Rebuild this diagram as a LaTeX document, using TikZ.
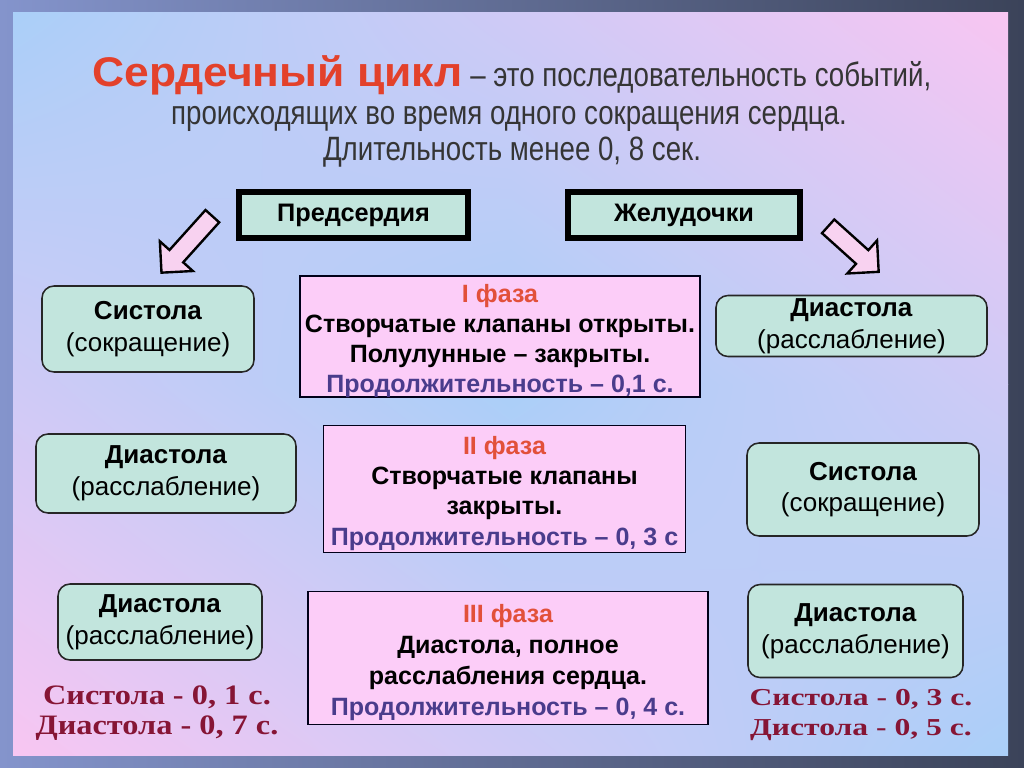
\documentclass[tikz,border=0pt]{standalone}
\usepackage{fontspec}
\setmainfont{Liberation Sans}
\newfontfamily\narrowfont[FakeStretch=0.82]{Liberation Sans}
\newfontfamily\widefont[FakeStretch=1.07]{Liberation Sans}
\newfontfamily\sumleftfont[FakeStretch=1.15]{Liberation Serif}
\newfontfamily\sumrightfont[FakeStretch=1.3]{Liberation Serif}
\usetikzlibrary{shapes.arrows, shadings, positioning}

\newlength{\pixel}
\setlength{\pixel}{0.25mm}
\newcommand{\topgap}{\rule{0pt}{19pt}}

\definecolor{framelt}{HTML}{8494CC}
\definecolor{framedk}{HTML}{3B4359}
\definecolor{slideblue}{HTML}{AACFF8}
\definecolor{slidepink}{HTML}{F8C6F2}
\definecolor{slidelav}{HTML}{CFCAF6}
\definecolor{mint}{HTML}{C2E5DD}
\definecolor{phasepink}{HTML}{FCCDF8}
\definecolor{arrowpink}{HTML}{F8D2F0}
\definecolor{titlered}{HTML}{E3412B}
\definecolor{textgray}{HTML}{353535}
\definecolor{phasered}{HTML}{E2503A}
\definecolor{durblue}{HTML}{4A3C8C}
\definecolor{sumred}{HTML}{861535}

\begin{document}
\begin{tikzpicture}[
        x=\pixel, y=-\pixel,
        chamber/.style={
          draw=black,
          line width=3.6pt,
          fill=mint,
          inner sep=0pt,
          font=\fontsize{18}{20}\selectfont\bfseries
        },
        stage/.style={
          draw=black!85,
          line width=1.1pt,
          rounded corners=12\pixel,
          fill=mint,
          align=center,
          inner sep=0pt,
          font=\fontsize{18.5}{22.5}\selectfont
        },
        phase/.style={
          draw=black!90!blue,
          line width=1.3pt,
          fill=phasepink,
          align=center,
          inner sep=0pt,
          font=\fontsize{17.8}{21.3}\selectfont\bfseries
        },
        blockarrow/.style={
          single arrow,
          draw=black,
          line width=1.7pt,
          fill=arrowpink,
          inner xsep=0pt,
          inner ysep=8\pixel,
          single arrow head extend=13\pixel,
          single arrow head indent=0pt
        }
      ]

      \useasboundingbox (0,0) rectangle (1024,767);

      % Фон
      \shade[left color=framelt, right color=framedk] (0,0) rectangle (1024,767);
      \shade[upper left=slideblue, upper right=slidelav,
        lower left=slidelav, lower right=slideblue] (13,13) rectangle (511,384);
      \shade[upper left=slidelav, upper right=slidepink,
        lower left=slideblue, lower right=slidelav] (511,13) rectangle (1008,384);
      \shade[upper left=slidelav, upper right=slideblue,
        lower left=slidepink, lower right=slidelav] (13,384) rectangle (511,755);
      \shade[upper left=slideblue, upper right=slidelav,
        lower left=slidelav, lower right=slideblue] (511,384) rectangle (1008,755);

      % Заголовок
      \node[text=textgray, font=\narrowfont\fontsize{24}{28}\selectfont] (title1) at (512,75)
      {{\color{titlered}\widefont\fontsize{29.5}{30}\selectfont\bfseries Сердечный цикл} – это последовательность событий,};
      \node[text=textgray, font=\narrowfont\fontsize{24}{28}\selectfont] (title2) at (509,119)
      {происходящих во время одного сокращения сердца.};
      \node[text=textgray, font=\narrowfont\fontsize{24}{28}\selectfont] (title3) at (512,152)
      {Длительность менее 0, 8 сек.};

      % Предсердия и желудочки
      \node[chamber, minimum width=229\pixel, minimum height=46\pixel] (atria) at (353.5,215) {Предсердия};
      \node[chamber, minimum width=232\pixel, minimum height=46\pixel] (ventr) at (684,215) {Желудочки};

      \node[blockarrow, minimum height=76\pixel, rotate=-132] (arrowL) at (190,241) {};
      \node[blockarrow, minimum height=68\pixel, rotate=-42] (arrowR) at (850,246) {};

      % Левая колонка
      \node[stage, minimum width=212\pixel, minimum height=86\pixel] (atrSys) at (148,329)
      {\textbf{Систола}\\(сокращение)};
      \node[stage, minimum width=260\pixel, minimum height=79\pixel] (atrDia) at (166,473.5)
      {\textbf{Диастола}\\(расслабление)};
      \node[stage, minimum width=204\pixel, minimum height=76\pixel] (atrRest) at (160,622)
      {\textbf{Диастола}\\(расслабление)};

      % Фазы
      \node[phase, minimum width=400\pixel, minimum height=119\pixel] (phase1) at (500,336.5)
      {\topgap{\color{phasered}I фаза}\\
        Створчатые клапаны открыты.\\
        Полулунные – закрыты.\\
        {\color{durblue}Продолжительность – 0,1 с.}};
      \node[phase, minimum width=362\pixel, minimum height=127\pixel,
        font=\fontsize{17.8}{21.6}\selectfont\bfseries] (phase2) at (504.5,489)
      {\topgap{\color{phasered}II фаза}\\
        Створчатые клапаны\\
        закрыты.\\
        {\color{durblue}Продолжительность – 0, 3 с}};
      \node[phase, minimum width=400\pixel, minimum height=133\pixel,
        font=\fontsize{17.8}{22}\selectfont\bfseries] (phase3) at (508,658)
      {\topgap{\color{phasered}III фаза}\\
        Диастола, полное\\
        расслабления сердца.\\
        {\color{durblue}Продолжительность – 0, 4 с.}};

      % Правая колонка
      \node[stage, minimum width=271\pixel, minimum height=61\pixel] (venDia) at (851.5,326)
      {\textbf{Диастола}\\(расслабление)};
      \node[stage, minimum width=232\pixel, minimum height=93\pixel] (venSys) at (863,489.5)
      {\textbf{Систола}\\(сокращение)};
      \node[stage, minimum width=215\pixel, minimum height=93\pixel] (venRest) at (855.5,631)
      {\textbf{Диастола}\\(расслабление)};

      % Итого
      \node[align=center, text=sumred, font=\sumleftfont\bfseries\fontsize{20}{21.8}\selectfont] (sumL) at (157,713)
      {Систола - 0, 1 с.\\Диастола - 0, 7 с.};
      \node[align=center, text=sumred, font=\sumrightfont\bfseries\fontsize{17.3}{21}\selectfont] (sumR) at (861,715)
      {Систола - 0, 3 с.\\Дистола - 0, 5 с.};

    \end{tikzpicture}
\end{document}
